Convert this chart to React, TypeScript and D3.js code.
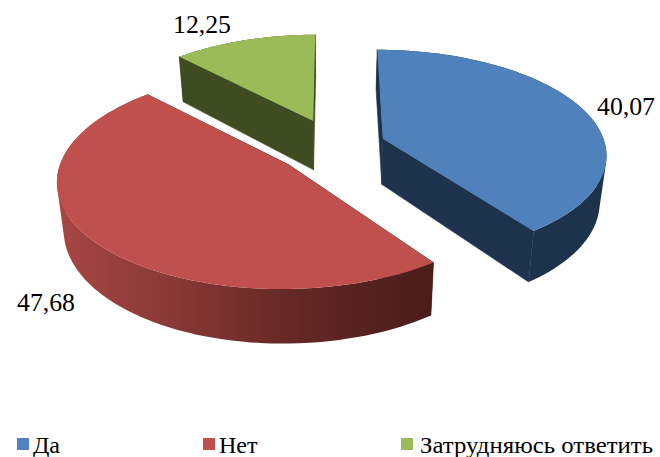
import React from "react";
import * as d3 from "d3";

const categories = ["Да", "Нет", "Затрудняюсь ответить"];
const values = [40.07, 47.68, 12.25];
const labels = ["40,07", "47,68", "12,25"];
const topColors = ["#4F81BD", "#C0504D", "#9BBB59"];
const sideColors = ["#1D334D", "#4A1C1A", "#3F4B21"];
const labelAnchors: [number, number][] = [[597, 115], [17, 311], [173, 33]];
const legendX = [17, 203, 401];
const nudgeX = [3, -2, 1];
const nudgeY = [-2, 1, -6];
const widthScale = [0.985, 0.99, 0.97];
const depthScale = [1, 1, 1.1];

const cx = 331, cy = 148, Rx = 226, Ry = 103, persp = 0.136, depth = 46, explode = 0.23, floorShrink = 0.025;

function project(X: number, d: number, z: number, i: number): [number, number] {
  const den = 1 + persp * d;
  return [
    cx + nudgeX[i] + ((Rx * X) / den) * (1 - floorShrink * z),
    cy + nudgeY[i] + (-Ry * d + depth * depthScale[i] * z) / den,
  ];
}

const serif = "'Liberation Serif', 'Times New Roman', serif";

export default function App() {
  const pie = d3.pie<number>().sort(null).startAngle(0).endAngle(2 * Math.PI);
  const arcs = pie(values);
  const line = d3.line();

  const slices = arcs.map((a, i) => {
    const mid = (a.startAngle + a.endAngle) / 2;
    const ox = explode * Math.sin(mid);
    const oy = explode * Math.cos(mid);
    const n = 80;
    const angles = d3.range(n + 1).map((j) => a.startAngle + ((a.endAngle - a.startAngle) * j) / n);
    const rim = (z: number) =>
      angles.map((t) => project(ox + widthScale[i] * Math.sin(t), oy + Math.cos(t), z, i));
    const apex = (z: number) => project(ox, oy, z, i);
    const r0 = rim(0), r1 = rim(1);
    const top = line([apex(0), ...r0]) + "Z";
    const wall = d3
      .range(n)
      .map((j) => {
        const quad: [number, number][] = [r0[j], r0[j + 1], r1[j + 1], r1[j]];
        if (d3.polygonArea(quad) < 0) quad.reverse();
        return line(quad) + "Z";
      })
      .join("");
    const cutStart = line([apex(0), r0[0], r1[0], apex(1)]) + "Z";
    const cutEnd = line([apex(0), r0[n], r1[n], apex(1)]) + "Z";
    return { i, top, wall, cutStart, cutEnd };
  });

  return (
    <svg
      width={660}
      height={457}
      style={{ position: "absolute", left: 0, top: 0 }}
      fontFamily={serif}
    >
      <defs>
        <linearGradient id="redWall" gradientUnits="userSpaceOnUse" x1={56} x2={433} y1={0} y2={0}>
          <stop offset="0" stopColor="#A84744" />
          <stop offset="0.35" stopColor="#843634" />
          <stop offset="0.65" stopColor="#622725" />
          <stop offset="1" stopColor="#4A1C1A" />
        </linearGradient>
      </defs>
      {slices.map((s) => (
        <g key={s.i}>
          <path d={s.cutStart} fill={sideColors[s.i]} stroke={sideColors[s.i]} strokeWidth={0.6} />
          <path d={s.cutEnd} fill={sideColors[s.i]} stroke={sideColors[s.i]} strokeWidth={0.6} />
          <path
            d={s.wall}
            fill={s.i === 1 ? "url(#redWall)" : sideColors[s.i]}
            fillRule="nonzero"
          />
          <path d={s.top} fill={topColors[s.i]} />
        </g>
      ))}
      {labels.map((t, i) => (
        <text key={t} x={labelAnchors[i][0]} y={labelAnchors[i][1]} fontSize={26} textLength={58} lengthAdjust="spacingAndGlyphs" fill="#000">
          {t}
        </text>
      ))}
      {categories.map((c, i) => (
        <g key={c}>
          <rect x={legendX[i]} y={438} width={12} height={12} fill={topColors[i]} />
          <text x={legendX[i] + 16 + (i === 2 ? 3 : 0)} y={453} fontSize={24} fill="#000" textLength={i === 2 ? 233 : undefined} lengthAdjust="spacingAndGlyphs">
            {c}
          </text>
        </g>
      ))}
    </svg>
  );
}
